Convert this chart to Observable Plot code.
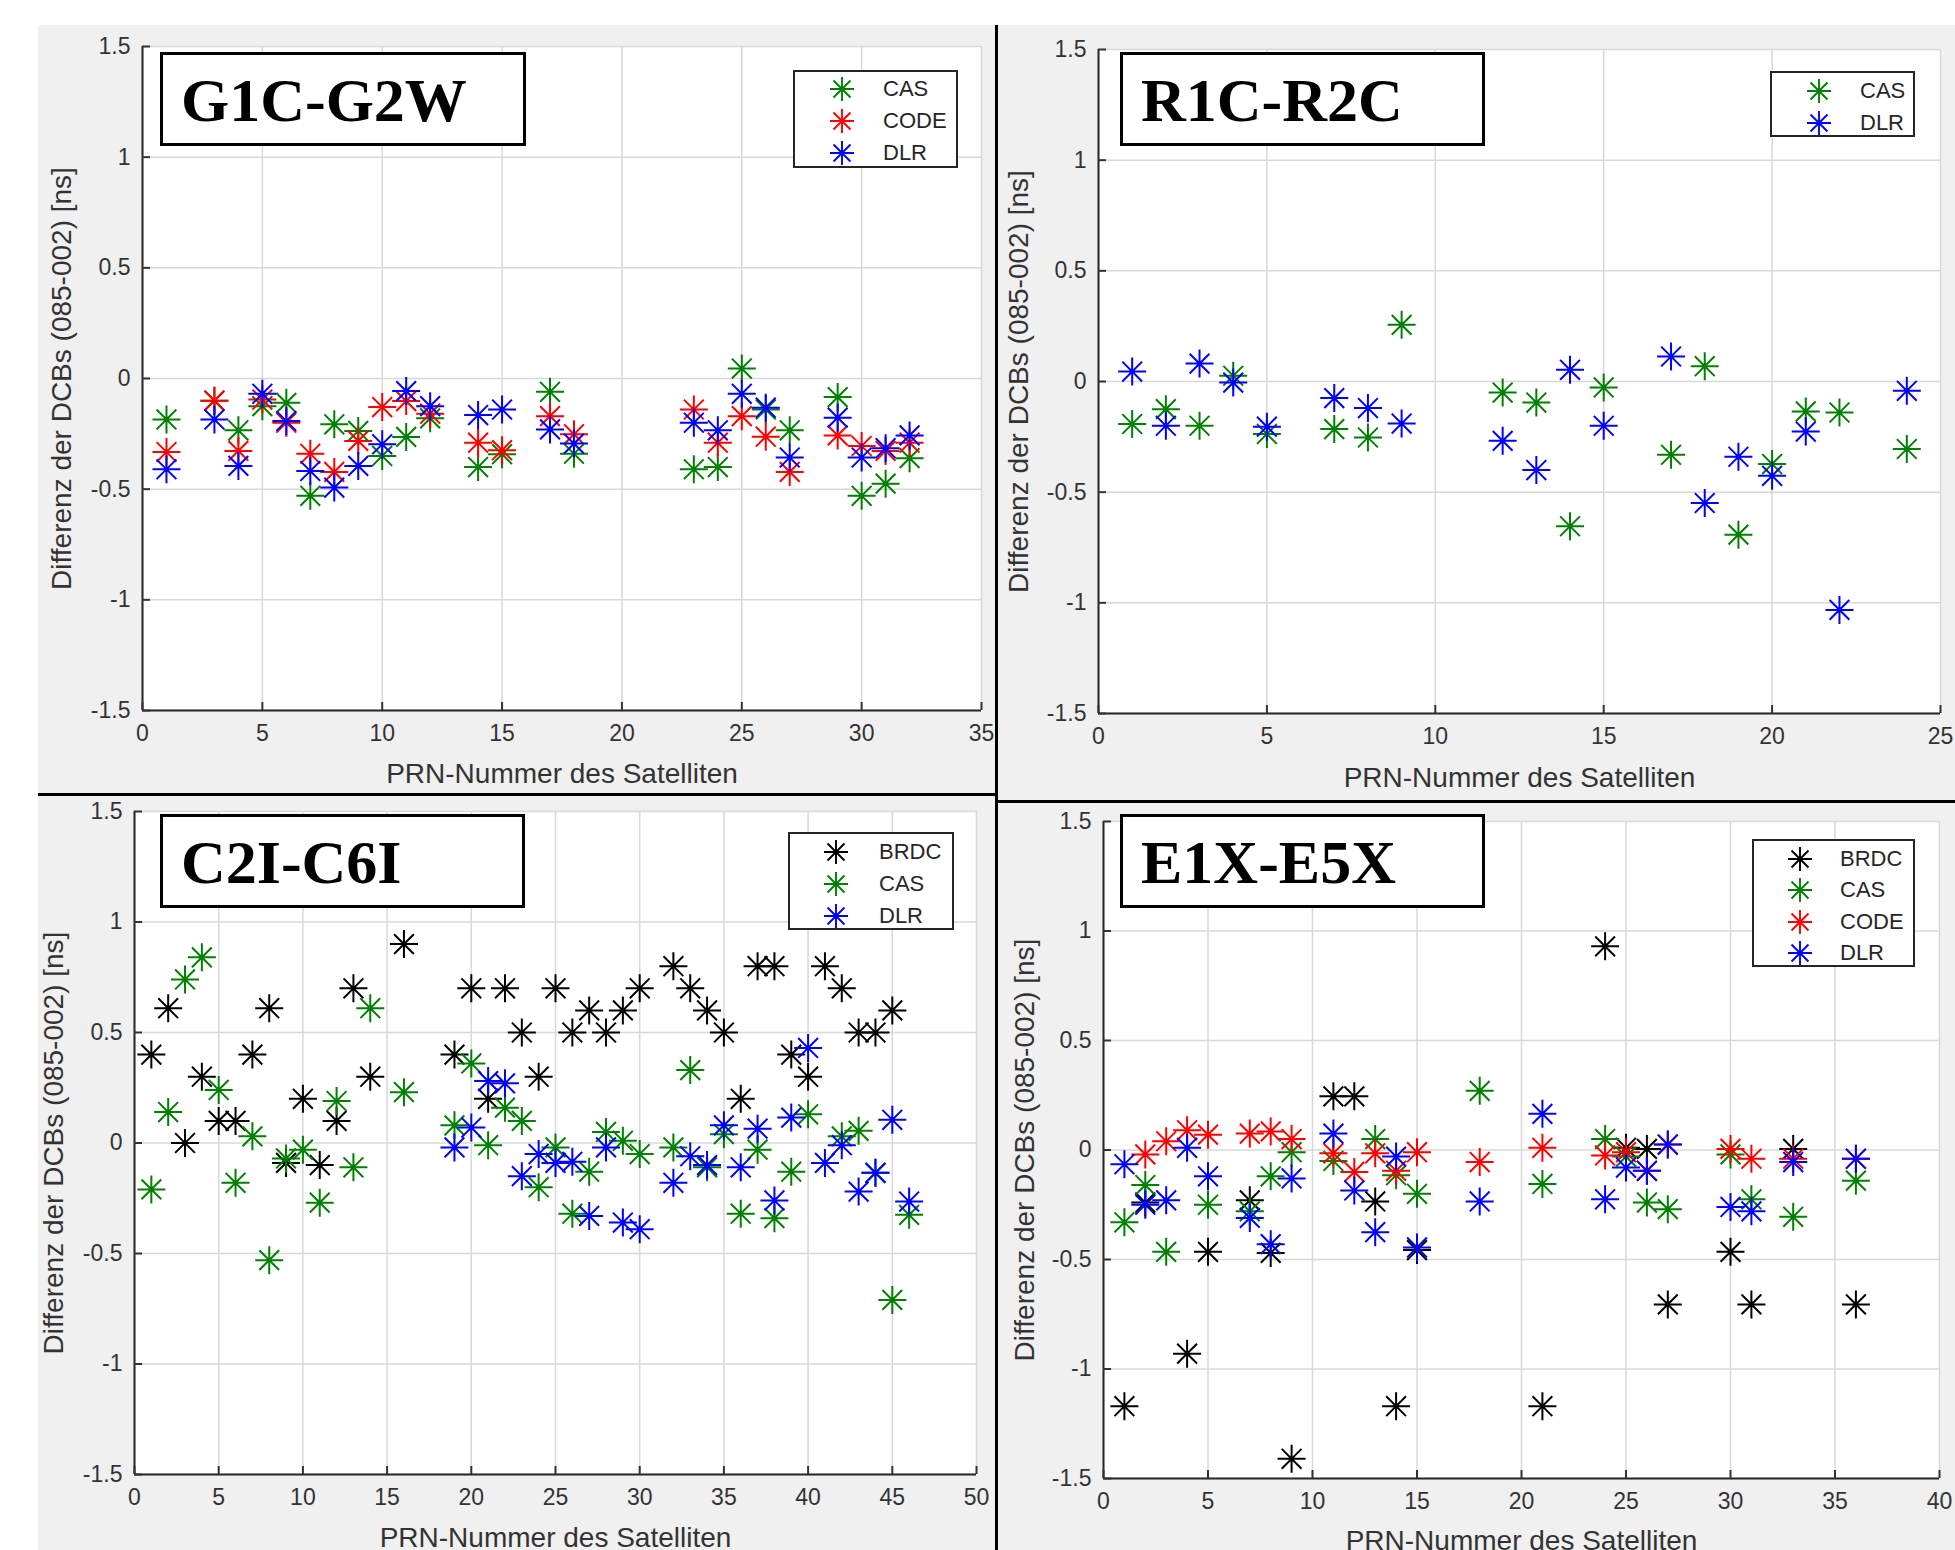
<!DOCTYPE html>
<html><head><meta charset="utf-8">
<script src="https://cdn.jsdelivr.net/npm/d3@7"></script>
<script src="https://cdn.jsdelivr.net/npm/@observablehq/plot@0.6"></script>
<style>
body{margin:0;background:#fff;}
#fig{position:relative;width:1955px;height:1550px;overflow:hidden;background:#fff;font-family:"Liberation Sans",Arial,sans-serif;}
.panel{position:absolute;background:#f0f0f0;overflow:hidden;}
.panel svg{display:block;max-width:none;}
.title{position:absolute;background:#fff;border:3px solid #000;box-sizing:border-box;font-family:"Liberation Serif","Times New Roman",serif;font-weight:bold;font-size:62px;color:#000;}
.title span{position:absolute;left:18px;top:14px;line-height:1;white-space:nowrap;}
.legend{position:absolute;background:#fff;border:2px solid #262626;box-sizing:border-box;}
.legend .row{position:absolute;left:0;height:30px;width:100%;}
.legend .row svg{position:absolute;top:2px;}
.legend .row span{position:absolute;top:0;line-height:30px;font-size:22px;color:#262626;}
.line{position:absolute;background:#000;}
</style>
</head><body>
<div id="fig"></div>
<script>
// ---------- data ----------
const yTicks = [-1.5,-1,-0.5,0,0.5,1,1.5];
const yLabel = "Differenz der DCBs (085-002) [ns]";
const xLabel = "PRN-Nummer des Satelliten";

// G1C-G2W
const gpsTitle = "G1C-G2W";
const gpsXTicks = [0,5,10,15,20,25,30,35];
const gpsPrn  = [1,3,4,5,6,7,8,9,10,11,12,14,15,17,18,23,24,25,26,27,29,30,31,32];
const gpsCas  = [-0.185,-0.10,-0.234,-0.125,-0.11,-0.53,-0.207,-0.237,-0.35,-0.264,-0.18,-0.40,-0.342,-0.06,-0.34,-0.41,-0.40,0.045,-0.14,-0.234,-0.084,-0.53,-0.475,-0.36];
const gpsCode = [-0.332,-0.10,-0.327,-0.095,-0.20,-0.34,-0.422,-0.282,-0.129,-0.102,-0.159,-0.29,-0.324,-0.17,-0.252,-0.14,-0.29,-0.17,-0.263,-0.422,-0.257,-0.305,-0.327,-0.29];
const gpsDlr  = [-0.41,-0.185,-0.395,-0.069,-0.192,-0.418,-0.493,-0.395,-0.297,-0.057,-0.125,-0.165,-0.14,-0.23,-0.294,-0.20,-0.234,-0.069,-0.132,-0.357,-0.177,-0.357,-0.315,-0.257];

// R1C-R2C
const gloTitle = "R1C-R2C";
const gloXTicks = [0,5,10,15,20,25];
const gloPrn = [1,2,3,4,5,7,8,9,12,13,14,15,17,18,19,20,21,22,24];
const gloCas = [-0.192,-0.125,-0.20,0.026,-0.237,-0.215,-0.253,0.256,-0.05,-0.095,-0.654,-0.027,-0.331,0.069,-0.692,-0.373,-0.135,-0.14,-0.305];
const gloDlr = [0.045,-0.20,0.081,-0.005,-0.204,-0.075,-0.12,-0.19,-0.268,-0.40,0.053,-0.20,0.113,-0.549,-0.34,-0.426,-0.226,-1.032,-0.042];

// C2I-C6I
const bdsTitle = "C2I-C6I";
const bdsXTicks = [0,5,10,15,20,25,30,35,40,45,50];
const bdsPrn  = [1,2,3,4,5,6,7,8,9,10,11,12,13,14,16,19,20,21,22,23,24,25,26,27,28,29,30,32,33,34,35,36,37,38,39,40,41,42,43,44,45,46];
const bdsBrdc = [0.40,0.61,0.00,0.30,0.10,0.10,0.40,0.61,-0.09,0.20,-0.10,0.10,0.70,0.30,0.90,0.40,0.70,0.20,0.70,0.50,0.30,0.70,0.50,0.60,0.50,0.60,0.70,0.80,0.70,0.60,0.50,0.20,0.80,0.80,0.40,0.30,0.80,0.70,0.50,0.50,0.60,null];
const bdsCas  = [-0.21,0.14,0.74,0.84,0.24,-0.18,0.03,-0.53,-0.07,-0.03,-0.27,0.19,-0.11,0.61,0.23,0.08,0.36,-0.01,0.16,0.10,-0.20,-0.02,-0.32,-0.13,0.05,0.01,-0.05,-0.02,0.33,-0.11,0.04,-0.32,-0.03,-0.34,-0.13,0.13,null,0.03,0.055,-0.135,-0.71,-0.325];
const bdsDlr  = [null,null,null,null,null,null,null,null,null,null,null,null,null,null,null,-0.02,0.07,0.28,0.27,-0.15,-0.05,-0.09,-0.085,-0.33,-0.02,-0.36,-0.39,-0.18,-0.06,-0.10,0.08,-0.11,0.065,-0.26,0.115,0.43,-0.09,-0.01,-0.22,-0.135,0.105,-0.265];

// E1X-E5X
const galTitle = "E1X-E5X";
const galXTicks = [0,5,10,15,20,25,30,35,40];
const galPrn  = [1,2,3,4,5,7,8,9,11,12,13,14,15,18,21,24,25,26,27,30,31,33,36];
const galBrdc = [-1.17,-0.24,null,-0.93,-0.465,-0.23,-0.47,-1.41,0.245,0.245,-0.235,-1.17,-0.457,null,-1.17,0.93,0.01,0.005,-0.705,-0.465,-0.705,0.005,-0.705];
const galCas  = [-0.33,-0.16,-0.465,null,-0.25,-0.28,-0.12,-0.01,-0.05,null,0.05,-0.115,-0.20,0.27,-0.155,0.05,-0.03,-0.24,-0.27,-0.02,-0.225,-0.305,-0.14];
const galCode = [null,-0.02,0.04,0.09,0.07,0.075,0.085,0.05,-0.015,-0.10,-0.015,-0.095,-0.01,-0.055,0.01,-0.025,-0.01,-0.095,0.025,0.005,-0.04,-0.04,-0.04];
const galDlr  = [-0.065,-0.25,-0.23,0.01,-0.12,-0.31,-0.43,-0.13,0.075,-0.185,-0.375,-0.03,-0.445,-0.235,0.165,-0.225,-0.08,-0.095,0.025,-0.26,-0.28,-0.055,-0.04];

const colors = {BRDC:"#000000", CAS:"#008000", CODE:"#ff0000", DLR:"#0000ff"};

// ---------- drawing ----------
const star8 = {
  draw(ctx, size) {
    const r = Math.sqrt(size / Math.PI), d = r * Math.SQRT1_2;
    ctx.moveTo(-r, 0); ctx.lineTo(r, 0);
    ctx.moveTo(0, -r); ctx.lineTo(0, r);
    ctx.moveTo(-d, -d); ctx.lineTo(d, d);
    ctx.moveTo(-d, d); ctx.lineTo(d, -d);
  }
};
const fig = document.getElementById("fig");

function starSvg(color, r) {
  const d = r * Math.SQRT1_2, s = r + 2;
  return `<svg width="${2*s}" height="${2*s}" viewBox="${-s} ${-s} ${2*s} ${2*s}"><path d="M${-r},0L${r},0M0,${-r}L0,${r}M${-d},${-d}L${d},${d}M${-d},${d}L${d},${-d}" stroke="${color}" stroke-width="1.9" fill="none"/></svg>`;
}

function panel(cfg) {
  const {box, margins, xMax, xTicks, prn, series, title, titleBox, legendBox, legendRows, markerX, textX, ylabDx, xlabDy} = cfg;
  const div = document.createElement("div");
  div.className = "panel";
  Object.assign(div.style, {left: box[0]+"px", top: box[1]+"px", width: box[2]+"px", height: box[3]+"px"});
  const marks = [
    Plot.frame({fill: "white", stroke: null}),
    Plot.gridX(xTicks, {stroke: "#d8d8d8", strokeOpacity: 1, strokeWidth: 1.5}),
    Plot.gridY(yTicks, {stroke: "#d8d8d8", strokeOpacity: 1, strokeWidth: 1.5}),
    Plot.ruleX([0], {stroke: "#262626", strokeWidth: 2}),
    Plot.ruleY([-1.5], {stroke: "#262626", strokeWidth: 2}),
    Plot.axisX(xTicks, {tickSize: -8, tickPadding: 22, fontSize: 23, color: "#333333", strokeWidth: 2, tickFormat: d => String(d), label: null}),
    Plot.axisY(yTicks, {tickSize: -8, tickPadding: 20, fontSize: 23, color: "#333333", strokeWidth: 2, tickFormat: d => String(d), label: null}),
    Plot.text([yLabel], {frameAnchor: "left", rotate: -90, dx: ylabDx, fontSize: 28, fill: "#333333", textAnchor: "middle", lineAnchor: "middle"}),
    Plot.text([xLabel], {frameAnchor: "bottom", dy: xlabDy, fontSize: 28, fill: "#333333", textAnchor: "middle", lineAnchor: "middle"})
  ];
  for (const s of series) {
    const data = prn.map((p, i) => ({x: p, y: s.values[i]})).filter(d => d.y != null);
    marks.push(Plot.dot(data, {x: "x", y: "y", symbol: star8, r: 14, stroke: colors[s.name], strokeWidth: 2, fill: "none"}));
  }
  const svg = Plot.plot({
    width: box[2], height: box[3],
    marginLeft: margins[0], marginRight: margins[1], marginTop: margins[2], marginBottom: margins[3],
    x: {domain: [0, xMax], axis: null},
    y: {domain: [-1.5, 1.5], axis: null},
    style: {background: "#f0f0f0", fontFamily: "'Liberation Sans', Arial, sans-serif", overflow: "visible"},
    marks
  });
  div.appendChild(svg);
  fig.appendChild(div);

  const t = document.createElement("div");
  t.className = "title";
  Object.assign(t.style, {left: titleBox[0]+"px", top: titleBox[1]+"px", width: titleBox[2]+"px", height: titleBox[3]+"px"});
  t.innerHTML = `<span>${title}</span>`;
  fig.appendChild(t);

  const lg = document.createElement("div");
  lg.className = "legend";
  Object.assign(lg.style, {left: legendBox[0]+"px", top: legendBox[1]+"px", width: legendBox[2]+"px", height: legendBox[3]+"px"});
  series.forEach((s, i) => {
    const row = document.createElement("div");
    row.className = "row";
    row.style.top = (legendRows[i] - 15) + "px";
    const r = 12;
    row.innerHTML = starSvg(colors[s.name], r).replace("<svg ", `<svg style="left:${markerX - r - 2}px;top:${15 - r - 2}px" `) +
      `<span style="left:${textX}px">${s.name}</span>`;
    lg.appendChild(row);
  });
  fig.appendChild(lg);
}

panel({
  box: [38, 25, 957, 768], margins: [104, 14, 21, 83], xMax: 35, xTicks: gpsXTicks, prn: gpsPrn,
  series: [{name: "CAS", values: gpsCas}, {name: "CODE", values: gpsCode}, {name: "DLR", values: gpsDlr}],
  title: gpsTitle, titleBox: [160, 52, 366, 94],
  legendBox: [793, 70, 165, 98], legendRows: [17, 48.5, 81], markerX: 47, textX: 88, ylabDx: -80, xlabDy: 64
});
panel({
  box: [998, 25, 957, 775], margins: [100, 15, 24, 87], xMax: 25, xTicks: gloXTicks, prn: gloPrn,
  series: [{name: "CAS", values: gloCas}, {name: "DLR", values: gloDlr}],
  title: gloTitle, titleBox: [1120, 52, 365, 94],
  legendBox: [1770, 71, 145, 66], legendRows: [17.5, 50], markerX: 47, textX: 88, ylabDx: -79, xlabDy: 65
});
panel({
  box: [38, 796, 957, 754], margins: [96, 19, 15, 76], xMax: 50, xTicks: bdsXTicks, prn: bdsPrn,
  series: [{name: "BRDC", values: bdsBrdc}, {name: "CAS", values: bdsCas}, {name: "DLR", values: bdsDlr}],
  title: bdsTitle, titleBox: [160, 814, 365, 94],
  legendBox: [788, 832, 166, 98], legendRows: [18, 49.5, 82], markerX: 46, textX: 89, ylabDx: -80, xlabDy: 64
});
panel({
  box: [998, 803, 957, 747], margins: [105, 16, 18, 72], xMax: 40, xTicks: galXTicks, prn: galPrn,
  series: [{name: "BRDC", values: galBrdc}, {name: "CAS", values: galCas}, {name: "CODE", values: galCode}, {name: "DLR", values: galDlr}],
  title: galTitle, titleBox: [1120, 814, 365, 94],
  legendBox: [1752, 839, 163, 128], legendRows: [17.5, 49, 81, 112], markerX: 46, textX: 86, ylabDx: -78, xlabDy: 63
});

// divider lines
function line(l, t, w, h) {
  const d = document.createElement("div");
  d.className = "line";
  Object.assign(d.style, {left: l+"px", top: t+"px", width: w+"px", height: h+"px"});
  fig.appendChild(d);
}
line(995, 25, 3, 1525);
line(38, 793, 957, 3);
line(998, 800, 957, 3);
</script>
</body></html>
